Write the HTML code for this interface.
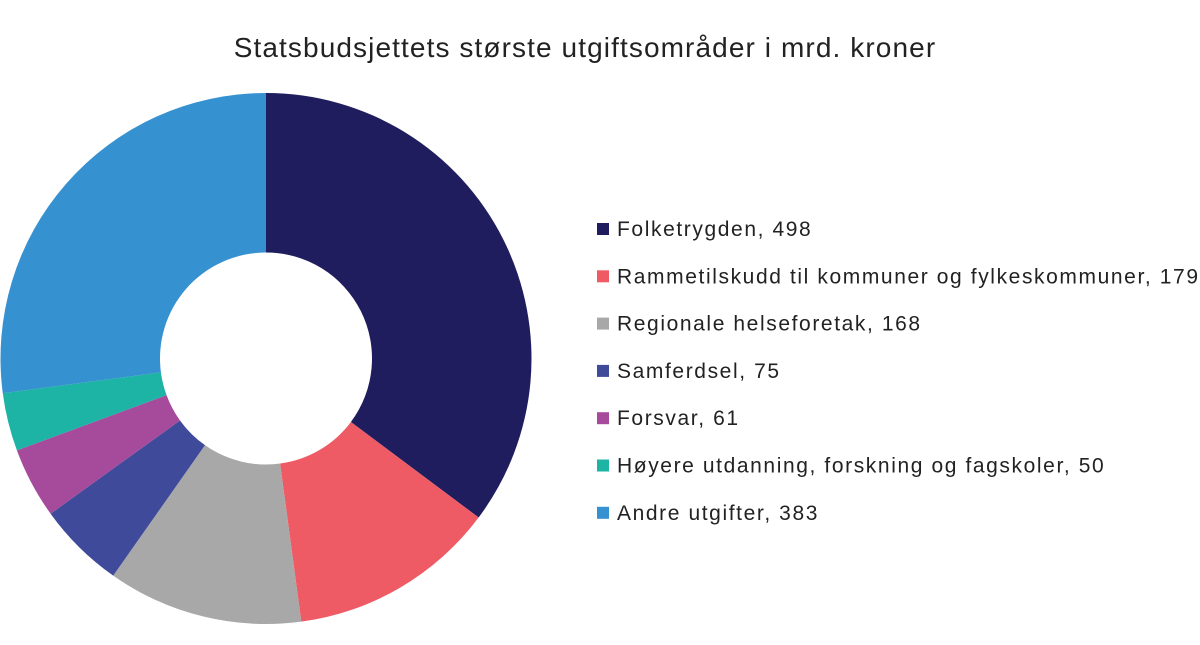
<!DOCTYPE html>
<html><head><meta charset="utf-8"><style>
body{margin:0;background:#fff;width:1200px;height:640px;overflow:hidden;font-family:"Liberation Sans",sans-serif}
</style></head><body>
<svg width="1200" height="640">
<text x="585" y="57" text-anchor="middle" font-size="28" letter-spacing="1.1" fill="#222">Statsbudsjettets største utgiftsområder i mrd. kroner</text>
<g id="slices"></g>
<g id="legend"></g>
</svg>
<script>
const categories=["Folketrygden","Rammetilskudd til kommuner og fylkeskommuner","Regionale helseforetak","Samferdsel","Forsvar","Høyere utdanning, forskning og fagskoler","Andre utgifter"];
const values=[498,179,168,75,61,50,383];
const colors=["#1f1d5e","#ee5b65","#a8a8a8","#3f4a9a","#a64b9c","#1db3a5","#3591d0"];
const cx=266,cy=358.5,R=265.5,r=106;
const total=values.reduce((a,b)=>a+b,0);
const NS="http://www.w3.org/2000/svg";
const sg=document.getElementById('slices'),lg=document.getElementById('legend');
let a0=0;
function pt(a,rad){return [cx+rad*Math.sin(a),cy-rad*Math.cos(a)];}
values.forEach((v,i)=>{
 const a1=a0+v/total*2*Math.PI;const big=(a1-a0)>Math.PI?1:0;
 const [x0,y0]=pt(a0,R),[x1,y1]=pt(a1,R),[x2,y2]=pt(a1,r),[x3,y3]=pt(a0,r);
 const p=document.createElementNS(NS,'path');
 p.setAttribute('d',`M${x0},${y0}A${R},${R} 0 ${big} 1 ${x1},${y1}L${x2},${y2}A${r},${r} 0 ${big} 0 ${x3},${y3}Z`);
 p.setAttribute('fill',colors[i]);
 
 
 sg.appendChild(p);a0=a1;
 const y=229+i*47.3;
 const s=document.createElementNS(NS,'rect');
 s.setAttribute('x',597);s.setAttribute('y',y-6);s.setAttribute('width',12);s.setAttribute('height',12);s.setAttribute('fill',colors[i]);
 
 
 lg.appendChild(s);
 const t=document.createElementNS(NS,'text');
 t.setAttribute('x',617);t.setAttribute('y',y+7);t.setAttribute('font-size','21');t.setAttribute('letter-spacing','1.6');t.setAttribute('fill','#222');
 t.textContent=categories[i]+', '+v;
 
 
 lg.appendChild(t);
});
</script>
</body></html>
